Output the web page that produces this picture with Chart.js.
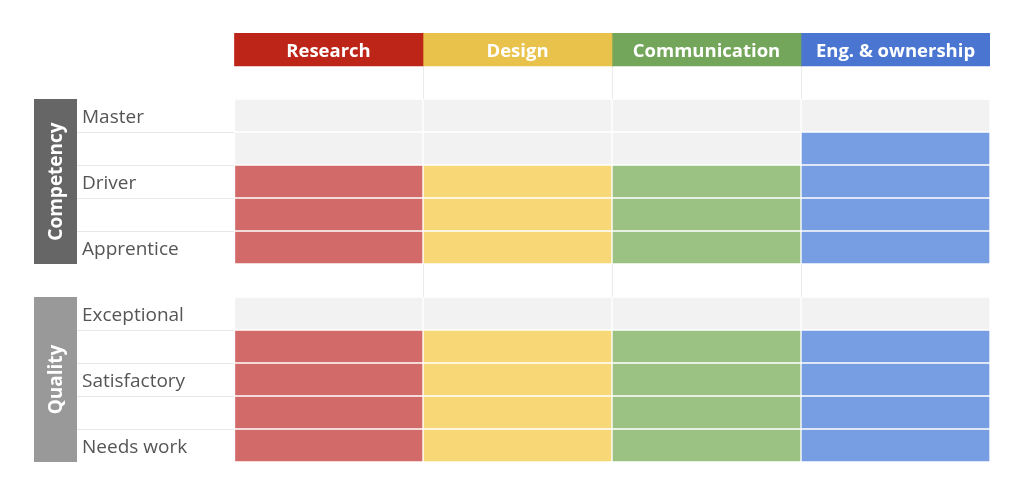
<!DOCTYPE html>
<html>
<head>
<meta charset="utf-8">
<script src="https://cdn.jsdelivr.net/npm/chart.js@4/dist/chart.umd.min.js"></script>
<style>
  html, body { margin: 0; padding: 0; background: #fff; }
  #wrap { width: 1024px; height: 492px; }
</style>
</head>
<body>
<div id="wrap"><canvas id="grid"></canvas></div>
<script>
// skill areas (columns)
const columns = ['Research', 'Design', 'Communication', 'Eng. & ownership'];
const headerColors = ['#bd2519', '#e8c24b', '#73a65a', '#4a76d2'];
const cellColors = ['#d16a68', '#f8d776', '#9cc283', '#779de3'];
const emptyColor = '#f2f2f2';

// rating scales, top to bottom
const competencyLevels = ['Master', '', 'Driver', '', 'Apprentice'];
const qualityLevels = ['Exceptional', '', 'Satisfactory', '', 'Needs work'];

// filled levels per column (out of 5)
const competencyScore = [3, 3, 3, 4];
const qualityScore = [4, 4, 4, 4];

const groups = [
    { name: 'Competency', color: '#666666', first: 2, last: 6 },
    { name: 'Quality', color: '#999999', first: 8, last: 12 }
];

// row 0 is the header band, rows 1 and 7 are spacers
const rowLabels = [''].concat([''], competencyLevels, [''], qualityLevels);

function buildDataset(c) {
    var data = [], bg = [], bw = [];
    for (var r = 0; r < rowLabels.length; r++) {
        if (r == 0) {
            data.push([c, c + 1]); bg.push(headerColors[c]); bw.push(0);
        } else if (r == 1 || r == 7) {
            data.push(null); bg.push('rgba(0,0,0,0)'); bw.push(0);
        } else {
            var level, score;
            if (r < 7) { level = 5 - (r - 2); score = competencyScore[c]; }
            else { level = 5 - (r - 8); score = qualityScore[c]; }
            data.push([c, c + 1]);
            bg.push(level <= score ? cellColors[c] : emptyColor);
            bw.push(1);
        }
    }
    return {
        label: columns[c],
        data: data,
        backgroundColor: bg,
        borderColor: '#ffffff',
        borderWidth: bw,
        borderSkipped: false,
        grouped: false,
        barPercentage: 1,
        categoryPercentage: 1
    };
}

const overlay = {
    id: 'overlay',
    afterDatasetsDraw(chart) {
        const ctx = chart.ctx;
        const xs = chart.scales.x, ys = chart.scales.y;
        const half = (ys.getPixelForValue(1) - ys.getPixelForValue(0)) / 2;
        ctx.save();
        // header titles
        ctx.fillStyle = '#ffffff';
        ctx.font = 'bold 18.5px "Open Sans"';
        ctx.textAlign = 'center';
        ctx.textBaseline = 'middle';
        columns.forEach(function(name, c) {
            ctx.fillText(name, xs.getPixelForValue(c + 0.5), ys.getPixelForValue(0) + 2);
        });
        // group boxes with rotated names
        groups.forEach(function(g) {
            var top = ys.getPixelForValue(g.first) - half;
            var bottom = ys.getPixelForValue(g.last) + half;
            ctx.fillStyle = g.color;
            ctx.fillRect(34, top, 43, bottom - top);
            ctx.save();
            ctx.translate(56, (top + bottom) / 2);
            ctx.rotate(-Math.PI / 2);
            ctx.fillStyle = '#ffffff';
            ctx.font = 'bold 19px "Open Sans"';
            ctx.fillText(g.name, 0, 1);
            ctx.restore();
        });
        ctx.restore();
    }
};

const innerLines = [3, 4, 5, 6, 9, 10, 11, 12];

Chart.defaults.font.family = '"Open Sans"';

new Chart(document.getElementById('grid'), {
    type: 'bar',
    data: {
        labels: rowLabels,
        datasets: columns.map(function(name, c) { return buildDataset(c); })
    },
    options: {
        indexAxis: 'y',
        responsive: true,
        maintainAspectRatio: false,
        animation: false,
        layout: { padding: { left: 82, right: 34, top: 33, bottom: 30 } },
        plugins: { legend: { display: false }, tooltip: { enabled: false } },
        scales: {
            x: {
                type: 'linear',
                min: 0,
                max: 4,
                ticks: { display: false, stepSize: 1 },
                border: { display: false },
                grid: {
                    drawTicks: false,
                    color: function(ctx) {
                        var v = ctx.tick ? ctx.tick.value : 0;
                        return (v > 0 && v < 4) ? '#ebebeb' : 'rgba(0,0,0,0)';
                    }
                },
                afterFit: function(scale) { scale.height = 0; }
            },
            y: {
                type: 'category',
                offset: true,
                border: { display: false },
                grid: {
                    offset: true,
                    drawOnChartArea: false,
                    drawTicks: true,
                    tickLength: 157,
                    color: function(ctx) {
                        return innerLines.indexOf(ctx.index) >= 0 ? '#e8e8e8' : 'rgba(0,0,0,0)';
                    }
                },
                ticks: {
                    crossAlign: 'far',
                    color: '#555555',
                    font: { size: 19 },
                    padding: 0,
                    labelOffset: 2,
                    autoSkip: false
                },
                afterFit: function(scale) { scale.width = 152; }
            }
        }
    },
    plugins: [overlay]
});
</script>
</body>
</html>
